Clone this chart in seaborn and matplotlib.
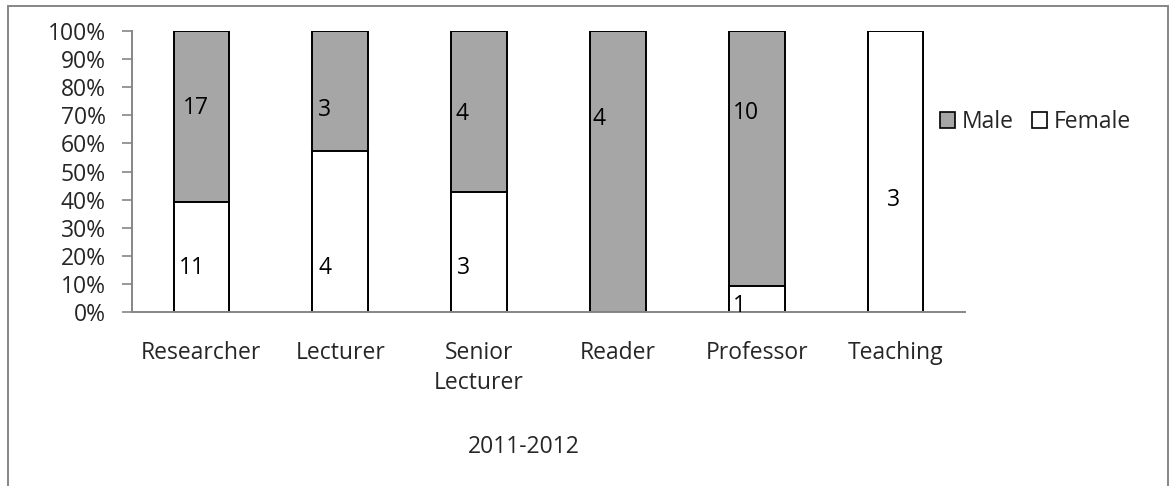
import pandas as pd
import numpy as np
import matplotlib
matplotlib.use("Agg")
import matplotlib.pyplot as plt
import matplotlib.patches as mpatches
from matplotlib.ticker import FuncFormatter
import seaborn as sns

#------------------------------------------------------------DATA--------------------------------------------------------------------------
roles = ['Researcher', 'Lecturer', 'Senior\nLecturer', 'Reader', 'Professor', 'Teaching']
male = [17, 3, 4, 4, 10, 0]
female = [11, 4, 3, 0, 1, 3]

# where the count labels sit (percent height)
male_lab_y = [72.6, 71.9, 70.5, 68.7, 70.8, None]
female_lab_y = [15.7, 15.7, 15.7, None, 2.0, 40.0]
male_lab_dx = [0.07, 0.04, 0.03, 0.02, 0.03, 0.0]
female_lab_dx = [0.04, 0.04, 0.04, 0.0, 0.03, 0.14]

df = pd.DataFrame({'role': roles, 'male': male, 'female': female})
df['total'] = df['male'] + df['female']
df['female_pct'] = df['female'] / df['total'] * 100
df['all_pct'] = 100.0

sns.set_theme(style='white')
plt.rcParams['font.family'] = ['Open Sans', 'DejaVu Sans']
FS = 16.5

fig = plt.figure(figsize=(11.76, 4.86), dpi=100)
ax = fig.add_axes([132 / 1176, 1 - 312 / 486, (965 - 132) / 1176, (312 - 31) / 486])

#------------------------------------------------------------STACKED BARS (100%)--------------------------------------------------------------------------
# gray full bar first, then white female part drawn on top
sns.barplot(x='role', y='all_pct', data=df, color='#A6A6A6', edgecolor='black',
            linewidth=1.4, width=0.4, ax=ax, saturation=1)
sns.barplot(x='role', y='female_pct', data=df, color='white', edgecolor='black',
            linewidth=1.4, width=0.4, ax=ax, saturation=1)

for i in range(len(roles)):
    left = i - 0.2
    if male[i] > 0:
        ax.text(left + male_lab_dx[i], male_lab_y[i], str(male[i]), ha='left', va='center',
                fontsize=FS, color='black')
    if female[i] > 0:
        ax.text(left + female_lab_dx[i], female_lab_y[i], str(female[i]), ha='left', va='center',
                fontsize=FS, color='black')

#------------------------------------------------------------AXES--------------------------------------------------------------------------
ax.set_xlim(-0.5, len(roles) - 0.5)
ax.set_ylim(0, 100)
ax.set_yticks(np.arange(0, 101, 10))
ax.yaxis.set_major_formatter(FuncFormatter(lambda v, p: f'{int(v)}%'))
ax.set_xlabel('')
ax.set_ylabel('')

ax.set_xticks(np.arange(len(roles)))
ax.set_xticklabels(roles, fontsize=FS, linespacing=1.3)
ax.set_xticks(np.arange(-0.5, len(roles), 1), minor=True)
ax.tick_params(axis='x', which='major', length=0, pad=21)
ax.tick_params(axis='x', which='minor', length=7, width=1.2, color='#868686', direction='out')
ax.tick_params(axis='y', length=7, width=1.2, color='#868686', direction='out',
               labelsize=FS, pad=12, left=True)

for side in ['top', 'right']:
    ax.spines[side].set_visible(False)
for side in ['left', 'bottom']:
    ax.spines[side].set_color('#868686')
    ax.spines[side].set_linewidth(1.4)

#------------------------------------------------------------LEGEND + TITLE--------------------------------------------------------------------------
handles = [mpatches.Patch(facecolor='#A6A6A6', edgecolor='black', linewidth=1.2, label='Male'),
           mpatches.Patch(facecolor='white', edgecolor='black', linewidth=1.2, label='Female')]
fig.legend(handles=handles, loc='center left', bbox_to_anchor=(940 / 1176, 1 - 122 / 486),
           ncol=2, frameon=False, fontsize=FS, handlelength=0.65, handleheight=0.65,
           handletextpad=0.3, columnspacing=0.8, borderpad=0, borderaxespad=0)

fig.text(524 / 1176, 1 - 447 / 486, '2011-2012', ha='center', va='center', fontsize=FS)

# chart area border
fig.patches.append(mpatches.Rectangle((8 / 1176, -0.05), (1168 - 8) / 1176, 1.05 - 6 / 486,
                                      transform=fig.transFigure, fill=False,
                                      edgecolor='#868686', linewidth=1.4))

plt.savefig('out.png', dpi=100)
plt.close()
